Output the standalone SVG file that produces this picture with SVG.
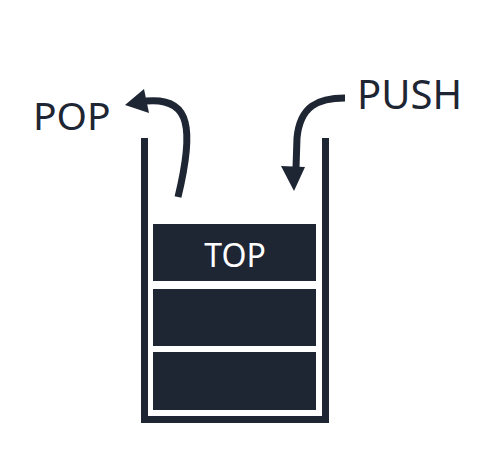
<svg xmlns="http://www.w3.org/2000/svg" width="487" height="468" viewBox="0 0 487 468">
<style>
.ink{fill:#1e2533}
.line{fill:none;stroke:#1e2533;stroke-width:7}
.lbl{font-family:"Noto Sans","Open Sans",sans-serif;fill:#1e2533}
.in{font-family:"Noto Sans","Open Sans",sans-serif;fill:#ffffff}
</style>
<rect width="487" height="468" fill="#ffffff"/>
<g id="stack">
<path class="line" d="M144.5,138 V419.5 H325.5 V138"/>
</g>
<g id="top">
<rect class="ink" x="153" y="224" width="163" height="57"/>
<text class="in" x="235" y="267" font-size="32" text-anchor="middle">TOP</text>
</g>
<g id="item2"><rect class="ink" x="153" y="289" width="163" height="57"/></g>
<g id="item3"><rect class="ink" x="153" y="352" width="163" height="58"/></g>
<g id="pop"><text class="lbl" x="33" y="130" font-size="39">POP</text></g>
<g id="push"><text class="lbl" x="357" y="109" font-size="40">PUSH</text></g>
<g id="connectors">
<path class="line" d="M178,197 C185,168 190,140 185,122 C181,106 168,99 146,101"/>
<polygon class="ink" points="125,105 144,89 149,113"/>
<path class="line" d="M345,98 C318,98 300,106 297,138 L296,168"/>
<polygon class="ink" points="281,166 305,167 294,191"/>
</g>
</svg>
